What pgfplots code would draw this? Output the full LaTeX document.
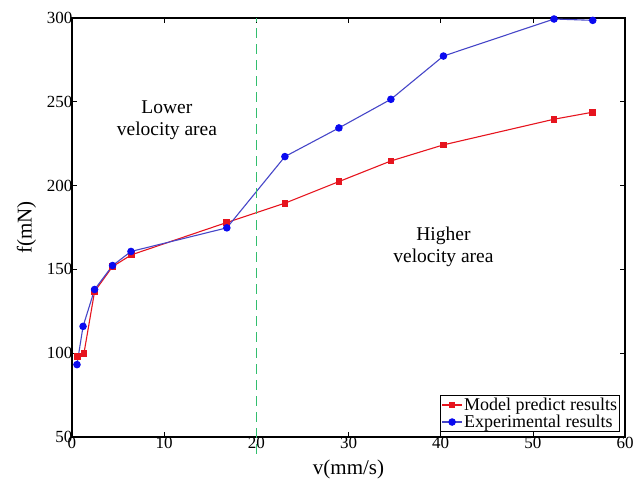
\documentclass[border=0pt]{standalone}
\usepackage{fontspec}
\setmainfont{Liberation Serif}
\usepackage{pgfplots}
\pgfplotsset{compat=1.18}
\definecolor{mred}{RGB}{230,20,30}
\definecolor{mblue}{RGB}{10,10,240}
\definecolor{mbline}{RGB}{70,70,200}
\definecolor{mgreen}{RGB}{50,190,110}
\begin{document}
\begin{tikzpicture}
\useasboundingbox (-72pt,-47pt) rectangle (572pt,437pt);
\begin{axis}[
  at={(0pt,0pt)}, anchor=south west,
  scale only axis, width=553pt, height=419pt,
  xmin=0, xmax=60, ymin=50, ymax=300,
  clip=false,
  xtick={0,10,...,60}, ytick={50,100,...,300},
  tick align=inside, major tick length=5pt,
  tick style={black, line width=0.6pt},
  axis line style={black, line width=1.1pt},
  /pgf/number format/assume math mode=true,
  ticklabel style={font=\fontsize{17}{17}\selectfont},
  xticklabel style={yshift=3pt},
  yticklabel style={xshift=4pt},
  xlabel={v(mm/s)}, ylabel={f(mN)},
  label style={font=\fontsize{21}{21}\selectfont},
  xlabel style={yshift=-4pt},
  ylabel style={yshift=4pt},
  legend style={font=\fontsize{18}{18}\selectfont, draw=black, line width=0.9pt, inner sep=1pt, nodes={inner sep=1.5pt}, at={(0.991,0.012)}, anchor=south east},
  legend cell align=left,
  legend image code/.code={\draw[#1, mark repeat=2, mark phase=2] plot coordinates {(0cm,0cm) (0.35cm,0cm) (0.7cm,0cm)};},
]
\addplot[color=mred, line width=1.1pt, mark=square*, mark size=2.8pt, mark options={fill=mred, draw=mred}] coordinates {
(0.58,98) (1.3,100) (2.45,136.8) (4.4,151.7) (6.45,158.7) (16.8,178) (23.1,189.5) (28.96,202.4) (34.6,214.7) (40.3,224.3) (52.3,239.6) (56.5,243.8)
};
\addlegendentry{Model predict results}
\addplot[color=mbline, line width=1.1pt, mark=*, mark size=3.2pt, mark options={fill=mblue, draw=mblue}] coordinates {
(0.54,93.2) (1.2,116) (2.45,138) (4.4,152.3) (6.4,160.7) (16.8,174.8) (23.1,217.3) (28.96,234.4) (34.6,251.5) (40.3,277.3) (52.3,299.4) (56.5,298.6)
};
\addlegendentry{Experimental results}
\addplot[color=mgreen, line width=1.6pt, dash pattern=on 10pt off 6pt, forget plot] coordinates {(20,40) (20,300)};
\node[font=\fontsize{19.5}{22}\selectfont, align=center] at (axis cs:10.3,239) {Lower\\velocity area};
\node[font=\fontsize{19.5}{22}\selectfont, align=center] at (axis cs:40.3,163.5) {Higher\\velocity area};
\end{axis}
\end{tikzpicture}
\end{document}
